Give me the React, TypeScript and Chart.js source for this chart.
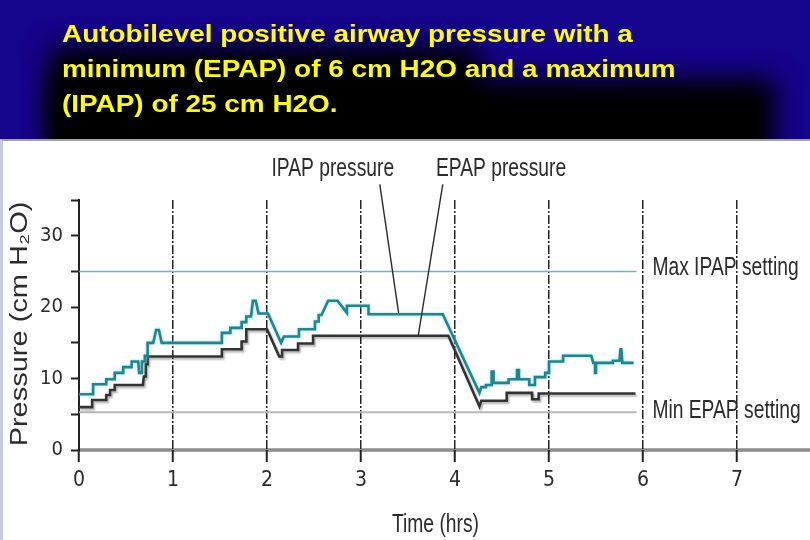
import React, { useEffect, useRef } from "react";
import { Chart, registerables } from "chart.js";

Chart.register(...registerables);

// ---- data ----
const ipapTime = [
  0, 0.15, 0.15, 0.29, 0.29, 0.38, 0.38, 0.47, 0.47, 0.56, 0.56, 0.63, 0.64, 0.66, 0.67, 0.7, 0.7, 0.73, 0.73, 0.79,
  0.82, 0.85, 0.88, 1.52, 1.52, 1.61, 1.61, 1.73, 1.73, 1.78, 1.78, 1.83, 1.85, 1.88, 1.91, 2.01, 2.15, 2.18, 2.34, 2.34,
  2.51, 2.51, 2.55, 2.55, 2.58, 2.65, 2.75, 2.85, 2.85, 3.08, 3.08, 3.87, 4.26, 4.28, 4.33, 4.33, 4.39, 4.39, 4.41, 4.41,
  4.57, 4.57, 4.66, 4.66, 4.68, 4.68, 4.79, 4.79, 4.85, 4.85, 4.96, 4.96, 5.0, 5.0, 5.15, 5.15, 5.45, 5.47, 5.49, 5.49,
  5.5, 5.5, 5.68, 5.68, 5.75, 5.76, 5.77, 5.78, 5.9,
];
const ipapValue = [
  7.8, 7.8, 9.2, 9.2, 9.9, 9.9, 10.8, 10.8, 11.6, 11.6, 12.4, 12.4, 10.8, 10.8, 12.4, 12.4, 13.2, 13.2, 15.0, 15.0,
  16.8, 16.8, 15.0, 15.0, 16.4, 16.4, 17.1, 17.1, 17.9, 17.9, 18.7, 18.7, 20.9, 20.9, 19.1, 19.1, 15.0, 15.9, 15.9, 16.9,
  16.9, 18.0, 18.0, 18.9, 18.9, 20.9, 20.9, 19.2, 20.2, 20.2, 19.0, 19.0, 8.0, 8.8, 8.8, 9.1, 9.1, 11.0, 11.0, 9.4,
  9.4, 9.9, 9.9, 11.2, 11.2, 9.9, 9.9, 9.1, 9.1, 10.2, 10.2, 10.8, 10.8, 12.4, 12.4, 13.2, 13.2, 12.2, 12.2, 10.8,
  10.8, 12.2, 12.2, 12.5, 12.5, 14.1, 14.1, 12.2, 12.2,
];
const epapTime = [
  0, 0.14, 0.14, 0.29, 0.29, 0.33, 0.33, 0.38, 0.38, 0.68, 0.69, 0.71, 0.71, 0.73, 0.73, 1.52, 1.52, 1.73, 1.73, 1.78,
  1.78, 2.0, 2.13, 2.16, 2.16, 2.33, 2.33, 2.49, 2.49, 3.93, 4.26, 4.28, 4.55, 4.55, 4.82, 4.82, 4.89, 4.89, 5.92,
];
const epapValue = [
  6.0, 6.0, 7.0, 7.0, 7.7, 7.7, 8.4, 8.4, 9.1, 9.1, 10.3, 10.3, 12.0, 12.0, 13.1, 13.1, 14.1, 14.1, 15.2, 15.2,
  16.9, 16.9, 13.1, 13.1, 14.0, 14.0, 14.9, 14.9, 16.0, 16.0, 6.1, 6.9, 6.9, 8.0, 8.0, 7.1, 7.1, 7.9, 7.9,
];
const settingTime = [0, 5.93];
const maxIpapSetting = [25, 25];
const minEpapSetting = [5.3, 5.3];
const xTickValues = [0, 1, 2, 3, 4, 5, 6, 7];
const yTickValues = [0, 5, 10, 15, 20, 25, 30, 35];
const yLabelValues = [0, 10, 20, 30];

const SANS = '"Liberation Sans", Arial, sans-serif';
const COND = '"DejaVu Sans Condensed", "Liberation Sans", sans-serif';
const TEXT = "#2b2b2b";

const zip = (xs: number[], ys: number[]) => xs.map((x, i) => ({ x, y: ys[i] }));

// draw text squeezed (sx < 1) or stretched (sx > 1) along its reading direction
function drawText(ctx: any, text: string, x: number, y: number, align: string, sx: number, rot = 0) {
  ctx.save();
  ctx.translate(x, y);
  if (rot) ctx.rotate(rot);
  ctx.scale(sx, 1);
  ctx.textAlign = align;
  ctx.textBaseline = "middle";
  ctx.fillText(text, 0, 0);
  ctx.restore();
}

const decorPlugin = {
  id: "decor",
  beforeDraw(chart: any) {
    const { ctx, scales } = chart;
    const x = scales.x;
    const y = scales.y;
    const y0 = y.getPixelForValue(0);
    ctx.save();
    ctx.strokeStyle = "#8e8e8e";
    ctx.lineWidth = 3.5;
    ctx.beginPath();
    ctx.moveTo(x.getPixelForValue(0), y0);
    ctx.lineTo(chart.width, y0);
    ctx.stroke();
    ctx.restore();
  },
  beforeDatasetDraw(chart: any, args: any) {
    const ctx = chart.ctx;
    ctx.save();
    const label = chart.data.datasets[args.index].label;
    if (label === "IPAP pressure") {
      ctx.shadowColor = "rgba(130,210,215,0.85)";
      ctx.shadowBlur = 3;
    } else if (label === "EPAP pressure") {
      ctx.shadowColor = "rgba(0,0,0,0.3)";
      ctx.shadowBlur = 2;
      ctx.shadowOffsetX = 1.5;
      ctx.shadowOffsetY = 2;
    }
  },
  afterDatasetDraw(chart: any) {
    chart.ctx.restore();
  },
  afterDraw(chart: any) {
    const { ctx, scales, chartArea } = chart;
    const x = scales.x;
    const y = scales.y;
    const px = (v: number) => x.getPixelForValue(v);
    const py = (v: number) => y.getPixelForValue(v);
    ctx.save();
    ctx.fillStyle = TEXT;
    ctx.font = "25px " + SANS;
    drawText(ctx, "IPAP pressure", px(2.7), py(39.3), "center", 0.77);
    drawText(ctx, "EPAP pressure", px(4.49), py(39.3), "center", 0.77);
    drawText(ctx, "Max IPAP setting", px(6.1), py(25.5), "left", 0.77);
    drawText(ctx, "Min EPAP setting", px(6.1), py(5.4), "left", 0.77);
    // axis titles
    drawText(ctx, "Time (hrs)", (chartArea.left + chartArea.right) / 2, 525, "center", 0.77);
    ctx.font = "23px " + SANS;
    drawText(ctx, "Pressure (cm H\u2082O)", 21, (chartArea.top + chartArea.bottom) / 2 - 1, "center", 1.26, -Math.PI / 2);
    // leader lines
    ctx.strokeStyle = TEXT;
    ctx.lineWidth = 1.4;
    ctx.beginPath();
    ctx.moveTo(px(3.2), py(37.2));
    ctx.lineTo(px(3.4), py(19.2));
    ctx.moveTo(px(3.87), py(37.2));
    ctx.lineTo(px(3.61), py(16.1));
    ctx.stroke();
    ctx.restore();
  },
};

export default function App() {
  const ref = useRef<HTMLCanvasElement | null>(null);

  useEffect(() => {
    document.body.style.margin = "0";
    if (!ref.current) return;
    const chart = new Chart(ref.current, {
      type: "line",
      data: {
        datasets: [
          {
            label: "IPAP pressure",
            data: zip(ipapTime, ipapValue),
            borderColor: "#1f878c",
            borderWidth: 2.6,
            pointRadius: 0,
            tension: 0,
          },
          {
            label: "EPAP pressure",
            data: zip(epapTime, epapValue),
            borderColor: "#333333",
            borderWidth: 2.6,
            pointRadius: 0,
            tension: 0,
          },
          {
            label: "Max IPAP setting",
            data: zip(settingTime, maxIpapSetting),
            borderColor: "#72b2ba",
            borderWidth: 1.5,
            pointRadius: 0,
          },
          {
            label: "Min EPAP setting",
            data: zip(settingTime, minEpapSetting),
            borderColor: "#b8b8b8",
            borderWidth: 2,
            pointRadius: 0,
          },
        ],
      },
      options: {
        responsive: false,
        animation: false,
        layout: { padding: { top: 200, right: 18, bottom: 0, left: 0 } },
        plugins: { legend: { display: false }, tooltip: { enabled: false } },
        scales: {
          x: {
            type: "linear",
            min: 0,
            max: 7.585,
            afterBuildTicks: (s: any) => {
              s.ticks = xTickValues.map((v) => ({ value: v }));
            },
            afterFit: (s: any) => {
              s.height = 90;
            },
            grid: {
              color: (c: any) => (c.tick && c.tick.value === 0 ? "rgba(0,0,0,0)" : "#222222"),
              lineWidth: 1.5,
              tickLength: 12,
              tickColor: "#222222",
              tickWidth: 2,
            },
            border: { display: false, dash: [9, 2, 2, 2] },
            ticks: {
              color: TEXT,
              font: { family: COND, size: 21 },
              padding: 6,
              maxRotation: 0,
              autoSkip: false,
              callback: (v: any) => String(v),
            },
            title: { display: false, text: "Time (hrs)" },
          },
          y: {
            type: "linear",
            min: 0,
            max: 35,
            afterBuildTicks: (s: any) => {
              s.ticks = yTickValues.map((v) => ({ value: v }));
            },
            afterFit: (s: any) => {
              s.width = 79;
            },
            grid: { drawOnChartArea: false, tickLength: 8, tickColor: "#222222", tickWidth: 2 },
            border: { display: true, color: "#222222", width: 2 },
            ticks: {
              color: TEXT,
              font: { family: COND, size: 20 },
              padding: 8,
              autoSkip: false,
              callback: (v: any) => (yLabelValues.includes(Number(v)) ? String(v) : ""),
            },
            title: { display: false, text: "Pressure (cm H\u2082O)" },
          },
        },
      },
      plugins: [decorPlugin],
    } as any);
    return () => chart.destroy();
  }, []);

  return (
    <div style={{ position: "relative", width: 810, height: 540, overflow: "hidden", background: "#15048c" }}>
      <div style={{ position: "absolute", left: 50, top: 46, width: 430, height: 130, background: "#000", filter: "blur(13px)" }} />
      <div style={{ position: "absolute", left: 50, top: 78, width: 725, height: 100, background: "#000", filter: "blur(13px)" }} />
      <div
        style={{
          position: "absolute",
          left: 62,
          top: 16,
          color: "#ffff00",
          fontFamily: SANS,
          fontWeight: "bold",
          fontSize: 24,
          lineHeight: "35px",
          whiteSpace: "nowrap",
          transform: "scaleX(1.163)",
          transformOrigin: "0 0",
        }}
      >
        Autobilevel positive airway pressure with a
        <br />
        minimum (EPAP) of 6 cm H2O and a maximum
        <br />
        (IPAP) of 25 cm H2O.
      </div>
      <div
        style={{
          position: "absolute",
          left: 0,
          top: 139,
          width: 810,
          height: 401,
          background: "#ffffff",
          borderTop: "2px solid #a3a3a3",
          borderLeft: "3px solid #c9c9e2",
          boxSizing: "border-box",
        }}
      />
      <canvas ref={ref} width={810} height={540} style={{ position: "absolute", left: 0, top: 0, width: 810, height: 540 }} />
    </div>
  );
}
